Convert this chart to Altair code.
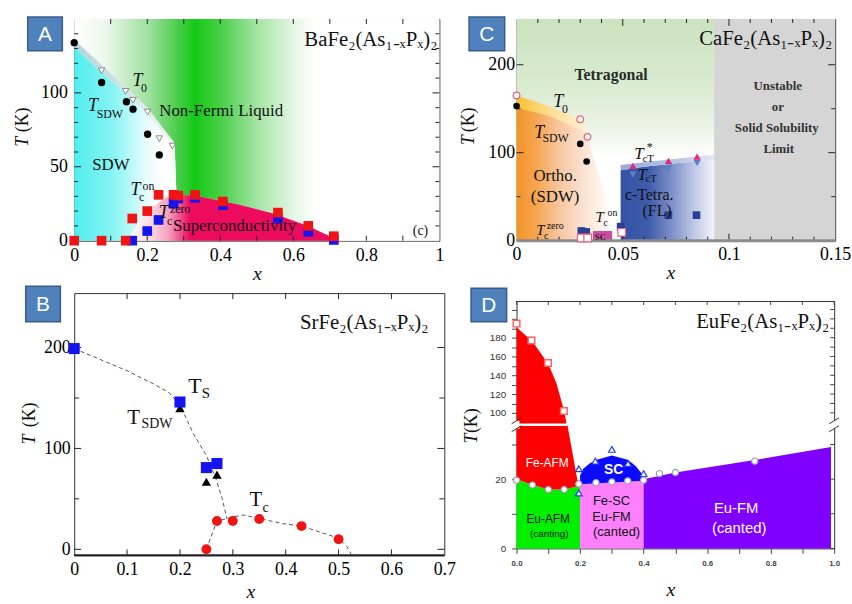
import altair as alt
import pandas as pd

SERIF = "Liberation Serif"
SANS = "Liberation Sans"
INK = "#111111"
ONE = pd.DataFrame({"k": [0]})

# ---------------- Panel A: BaFe2(As1-xPx)2 ----------------
a_xlabels = [0, 0.2, 0.4, 0.6, 0.8, 1]
a_ylabels = [0, 50, 100]
a_xticks = [0.1, 0.2, 0.3, 0.4, 0.5, 0.6, 0.7, 0.8, 0.9]
a_yticks_major = [50, 100]
a_yticks_minor = [10, 20, 30, 40, 60, 70, 80, 90, 110, 120, 130, 140]

a_tsdw_x = [0.0, 0.075, 0.143, 0.161, 0.201, 0.233]
a_tsdw_T = [134, 107, 94, 89, 72, 58]
a_t0_x = [0.075, 0.141, 0.161, 0.201, 0.233, 0.269]
a_t0_T = [115, 101, 95, 87, 69, 64]
a_tcon_x = [0.0, 0.075, 0.141, 0.159, 0.2, 0.231, 0.272, 0.285, 0.331, 0.407, 0.558, 0.641, 0.711]
a_tcon_T = [0, 0, 0, 15, 20, 31, 31, 30.5, 31, 26.5, 19, 10, 3]
a_tczero_x = [0.159, 0.2, 0.231, 0.272, 0.285, 0.331, 0.407, 0.558, 0.641, 0.711]
a_tczero_T = [0, 6.5, 14, 25, 28.5, 29, 24, 15, 6, 0.5]

a_nfl_x = [0, 1, 1, 0.715, 0.70, 0.64, 0.55, 0.45, 0.40, 0.33, 0.28, 0.275, 0.2, 0.14, 0.075, 0]
a_nfl_T = [150, 150, 0, 0, 3, 10, 18, 24.5, 27, 30.5, 31, 66, 90, 104, 119, 136]
a_band_x = [0, 0, 0.075, 0.14, 0.2, 0.275, 0.275, 0.2, 0.14, 0.075]
a_band_T = [131, 136, 119, 104, 90, 66, 63, 86, 100, 114]
a_sdw_x = [0, 0, 0.075, 0.14, 0.2, 0.275, 0.28, 0.25, 0.2, 0.17, 0.145]
a_sdw_T = [0, 131, 114, 100, 86, 63, 31, 29, 20, 10, 0]
a_sc_x = [0.145, 0.17, 0.2, 0.25, 0.28, 0.33, 0.4, 0.45, 0.55, 0.64, 0.7, 0.715]
a_sc_T = [0, 10, 20, 29, 31, 30.5, 27, 24.5, 18, 10, 3, 0]

# ---------------- Panel B: SrFe2(As1-xPx)2 ----------------
b_xlabels = [0, 0.1, 0.2, 0.3, 0.4, 0.5, 0.6, 0.7]
b_ylabels = [0, 100, 200]
b_xticks = [0.1, 0.2, 0.3, 0.4, 0.5, 0.6]
b_yticks_major = [0, 100, 200]
b_yticks_minor = [50, 150]

b_ts_x = [0.0, 0.2, 0.25, 0.27]
b_ts_T = [199, 146, 81, 85]
b_tsdw_x = [0.2, 0.25, 0.27]
b_tsdw_T = [140, 67, 74]
b_tc_x = [0.25, 0.27, 0.3, 0.35, 0.43, 0.5]
b_tc_T = [0, 28, 28, 30, 23, 10]
b_guide1_x = [0, 0.1, 0.15, 0.18, 0.2, 0.225, 0.25, 0.268, 0.28, 0.289]
b_guide1_T = [199, 177, 164, 155, 143, 115, 93, 70, 50, 30]
b_guide2_x = [0.25, 0.262, 0.27, 0.3, 0.32, 0.35, 0.394, 0.43, 0.5, 0.516, 0.525]
b_guide2_T = [0, 17, 28, 32, 34, 30.5, 25.5, 23, 11, 2.6, -6]

# ---------------- Panel C: CaFe2(As1-xPx)2 ----------------
c_xlabels = [0, 0.05, 0.1, 0.15]
c_ylabels = [0, 100, 200]
c_xticks_major = [0.05, 0.1]
c_xticks_minor = [0.01, 0.02, 0.03, 0.04, 0.06, 0.07, 0.08, 0.09, 0.11, 0.12, 0.13, 0.14]
c_yticks_major = [100, 200]
c_yticks_minor = [50, 150]

c_tsdw_x = [0.0, 0.030, 0.033]
c_tsdw_T = [153, 110, 90]
c_t0_x = [0.0, 0.030, 0.0334]
c_t0_T = [165, 138, 118]
c_tcts_x = [0.0548, 0.0715, 0.085]
c_tcts_T = [85, 90.7, 95.5]
c_tct_x = [0.0548, 0.0715, 0.085]
c_tct_T = [75, 82, 88.5]
c_sq_x = [0.0305, 0.0328, 0.049, 0.0715, 0.0847]
c_sq_T = [11, 10, 16, 29, 29]
c_osq_x = [0.0305, 0.0335, 0.0495]
c_osq_T = [3, 3, 9.5]

c_unstable_x = [0.093, 0.15]
c_tetra_x = [0, 0.093]
c_Tspan = [0, 252]
c_sc_x = [0.036, 0.045]
c_sc_T = [0, 11]
c_ortho_x = [0, 0, 0.015, 0.03, 0.034, 0.036, 0.04, 0.044, 0.046]
c_ortho_T = [0, 158, 148, 134, 116, 95, 65, 30, 0]
c_t0band_x = [0, 0, 0.015, 0.03, 0.0345, 0.03, 0.015]
c_t0band_T = [151, 165, 153, 139, 118, 126, 142]
c_fl_x = [0.049, 0.049, 0.06, 0.075, 0.093, 0.093]
c_fl_T = [0, 80, 84, 88, 92, 0]
c_flband_x = [0.049, 0.049, 0.06, 0.075, 0.093, 0.093, 0.075, 0.06]
c_flband_T = [80, 86, 89, 93, 98, 92, 88, 84]
c_base_x = [0, 0.15]

# ---------------- Panel D: EuFe2(As1-xPx)2 (broken T axis) ----------------
d_xticks = [0, 0.1, 0.2, 0.3, 0.4, 0.5, 0.6, 0.7, 0.8, 0.9, 1.0]
d_yticks_T = [0, 10, 20, 30, 100, 110, 120, 130, 140, 150, 160, 170, 180, 190, 200, 210]
d_ylabels = [0, 20, 100, 120, 140, 160, 180]

d_tn_x = [0.0, 0.047, 0.099, 0.149]
d_tn_T = [195, 177, 153, 102]
d_eu_x = [0, 0.05, 0.1, 0.15, 0.196, 0.25, 0.3, 0.35, 0.4, 0.45, 0.5, 0.75]
d_eu_T = [19.7, 18.3, 17, 17, 18.6, 19, 19.2, 19.5, 19.7, 21.6, 21.9, 25.2]
d_tc_x = [0.196, 0.196, 0.248, 0.3, 0.351, 0.4]
d_tc_T = [16, 23, 25.2, 28.6, 24.5, 21.6]

d_red_x = [0, 0, 0.05, 0.1, 0.125, 0.15, 0.158, 0.16, 0.195, 0.15, 0.1, 0.05]
d_red_T = [20, 191, 176, 152, 132, 102, 87.4, 35.7, 18, 17, 17, 18.4]
d_green_x = [0, 0, 0.05, 0.1, 0.15, 0.195, 0.2, 0.2]
d_green_T = [0, 20, 18.4, 17, 17, 18, 18.3, 0]
d_pink_x = [0.2, 0.2, 0.3, 0.4, 0.4]
d_pink_T = [0, 18.5, 19, 19.5, 0]
d_sc_x = [0.2, 0.2, 0.21, 0.23, 0.25, 0.3, 0.35, 0.375, 0.395, 0.4, 0.4, 0.3]
d_sc_T = [18.5, 21, 23, 24.5, 25.5, 26.8, 25.6, 23.8, 21.5, 20, 19.5, 19]
d_fm_x = [0.4, 0.4, 0.5, 0.75, 0.99, 0.99]
d_fm_T = [0, 20, 21.9, 25.5, 29.3, 0]
d_break_x = [0, 0.16]

# piecewise map of T onto the broken axis (lower 0-35.7 K, upper from 87.4 K)
BRK = "datum.T <= 36 ? 3.5 * datum.T : 125 + 0.95 * (datum.T - 87.4)"


def brk(t):
    return 3.5 * t if t <= 36 else 125 + 0.95 * (t - 87.4)


# ---------------- helpers ----------------
def hgrad(stops):
    return alt.LinearGradient(gradient="linear", x1=0, y1=0, x2=1, y2=0,
                              stops=[alt.GradientStop(offset=o, color=c) for o, c in stops])


def vgrad(stops):
    return alt.LinearGradient(gradient="linear", x1=0, y1=0, x2=0, y2=1,
                              stops=[alt.GradientStop(offset=o, color=c) for o, c in stops])


def txt(s, x, y, size=16, font=SERIF, style="normal", weight="normal", color=INK,
        align="center", angle=0):
    return alt.Chart(ONE).mark_text(
        text=s, font=font, fontSize=size, fontStyle=style, fontWeight=weight, color=color,
        align=align, baseline="middle", angle=angle).encode(x=alt.value(x), y=alt.value(y))


def badge(letter, x0, y0, x1, y1):
    rect = alt.Chart(ONE).mark_rect(fill="#4F81BD", stroke="#385D8A", strokeWidth=1.5).encode(
        x=alt.value(x0), x2=alt.value(x1), y=alt.value(y0), y2=alt.value(y1))
    return [rect, txt(letter, (x0 + x1) / 2, (y0 + y1) / 2 + 1, size=21, font=SANS, color="white")]


def anchor(x, y):
    return alt.Chart(ONE).mark_rule(opacity=0).encode(
        x=alt.value(x), x2=alt.value(x + 1), y=alt.value(y), y2=alt.value(y))


def ytitle(x, y_t, y_k, size=18):
    return [txt("T", x, y_t, size=size, style="italic", angle=270),
            txt("(K)", x, y_k, size=size, angle=270)]


class Panel:
    """Shared scales/axes of one panel; every data layer uses the same axis spec."""

    def __init__(self, xsc, ysc, xax, yax, w, h, calc=None):
        self.xsc, self.ysc, self.xax, self.yax = xsc, ysc, xax, yax
        self.w, self.h, self.calc = w, h, calc
        self.yf = "yd" if calc else "T"

    def X(self, f):
        return alt.X(f"{f}:Q", scale=self.xsc, axis=self.xax)

    def Y(self, f):
        return alt.Y(f"{f}:Q", scale=self.ysc, axis=self.yax)

    def base(self, df):
        ch = alt.Chart(df)
        return ch.transform_calculate(yd=self.calc) if self.calc else ch

    def region(self, xs, ts, fill):
        df = pd.DataFrame({"x": xs, "T": ts, "i": list(range(len(xs)))})
        return self.base(df).mark_line(fill=fill, strokeOpacity=0, interpolate="linear").encode(
            x=self.X("x"), y=self.Y(self.yf), order=alt.Order("i:Q"))

    def box(self, xs, ts, fill):
        df = pd.DataFrame({"x": [xs[0]], "x2": [xs[1]], "T": [ts[0]], "T2": [ts[1]]})
        return alt.Chart(df).mark_rect(fill=fill).encode(
            x=self.X("x"), x2="x2:Q", y=self.Y("T"), y2="T2:Q")

    def points(self, xs, ts, **mark):
        df = pd.DataFrame({"x": xs, "T": ts})
        return self.base(df).mark_point(opacity=1, **mark).encode(x=self.X("x"), y=self.Y(self.yf))

    def curve(self, xs, ts, **mark):
        df = pd.DataFrame({"x": xs, "T": ts, "i": list(range(len(xs)))})
        return alt.Chart(df).mark_line(**mark).encode(
            x=self.X("x"), y=self.Y("T"), order=alt.Order("i:Q"))

    def xticks(self, vals, length, sides=("bottom", "top"), color="#222"):
        df = pd.DataFrame({"x": vals})
        out = []
        for side in sides:
            y0, y1 = (self.h, self.h - length) if side == "bottom" else (0, length)
            out.append(alt.Chart(df).mark_rule(color=color, strokeWidth=1).encode(
                x=self.X("x"), y=alt.value(y0), y2=alt.value(y1)))
        return out

    def yticks(self, vals, length, sides=("left", "right"), color="#222"):
        df = pd.DataFrame({"T": vals})
        out = []
        for side in sides:
            x0, x1 = (0, length) if side == "left" else (self.w, self.w - length)
            out.append(self.base(df).mark_rule(color=color, strokeWidth=1).encode(
                y=self.Y(self.yf), x=alt.value(x0), x2=alt.value(x1)))
        return out

    def baseline(self, xs, color, width):
        df = pd.DataFrame({"x": [xs[0]], "x2": [xs[1]]})
        return alt.Chart(df).mark_rule(color=color, strokeWidth=width).encode(
            x=self.X("x"), x2="x2:Q", y=alt.value(self.h))


NUM = "format(datum.value, '.2~f')"
SERIF_AXIS = dict(labelFont=SERIF, labelFontSize=18, labelColor="#000", ticks=False, domain=False,
                  grid=False, title=None, labelFlush=False, labelOverlap=False, labelExpr=NUM)

# ================= Panel A =================
pa = Panel(alt.Scale(domain=[0, 1], nice=False, zero=False),
           alt.Scale(domain=[0, 150], nice=False, zero=False),
           alt.Axis(values=a_xlabels, labelPadding=6, **SERIF_AXIS),
           alt.Axis(values=a_ylabels, labelPadding=7, **SERIF_AXIS),
           369, 224)

green_fill = hgrad([(0, "#ffffff"), (0.08, "#eef8ee"), (0.2, "#a2e2a2"), (0.27, "#5ad05a"),
                    (0.33, "#14c814"), (0.4, "#48cf48"), (0.5, "#a2e4a2"), (0.6, "#e4f6e4"),
                    (0.66, "#ffffff"), (1, "#ffffff")])
cyan_fill = hgrad([(0, "#52eeee"), (0.36, "#84f3f3"), (0.54, "#b6f8f8"), (0.71, "#e8fcfc"),
                   (0.86, "#ffffff"), (1, "#ffffff")])
band_fill = hgrad([(0, "#b8d4d8"), (0.6, "#d7e7ea"), (1, "#eef5f5")])
sc_fill = hgrad([(0, "#ffffff"), (0.1, "#fbe0ea"), (0.2, "#f5a0bd"), (0.3, "#ee0c5e"), (1, "#ee0a5e")])

panel_a = alt.layer(
    pa.region(a_nfl_x, a_nfl_T, green_fill),
    pa.region(a_sdw_x, a_sdw_T, cyan_fill),
    pa.region(a_band_x, a_band_T, band_fill),
    pa.region(a_sc_x, a_sc_T, sc_fill),
    *pa.xticks(a_xticks, 5),
    *pa.yticks(a_yticks_major, 7),
    *pa.yticks(a_yticks_minor, 4),
    pa.points(a_tczero_x, a_tczero_T, shape="square", size=95, filled=True, color="#1414f0"),
    pa.points(a_tcon_x, a_tcon_T, shape="square", size=95, filled=True, color="#f01414"),
    pa.points(a_t0_x, a_t0_T, shape="triangle-down", size=45, filled=True,
              fill="white", stroke="#8a8a8a", strokeWidth=1),
    pa.points(a_tsdw_x, a_tsdw_T, shape="circle", size=55, filled=True, color="#000000"),
    txt("BaFe₂(As₁₋ₓPₓ)₂", 367, 21, size=21, align="right"),
    txt("T", 64, 63, size=18, style="italic"), txt("0", 70.5, 70, size=12),
    txt("T", 19, 88, size=18, style="italic"), txt("SDW", 36, 96, size=12),
    txt("Non-Fermi Liquid", 86, 93, size=17, align="left"),
    txt("SDW", 37, 148, size=17),
    txt("T", 62, 173, size=18, style="italic"), txt("c", 68, 180, size=12), txt("on", 75, 168.5, size=12),
    txt("T", 90.5, 196.5, size=18, style="italic"), txt("c", 96.5, 204, size=12),
    txt("zero", 107, 192.5, size=12),
    txt("Superconductivity", 162, 209, size=17),
    txt("(c)", 350, 214, size=14),
    txt("x", 185, 258, size=20, style="italic"),
    *ytitle(-52, 124, 102),
    *badge("A", -47, -2, -12, 32),
    anchor(-74, -15), anchor(386, 0),
).properties(width=pa.w, height=pa.h)

# ================= Panel B =================
pb = Panel(alt.Scale(domain=[0, 0.7], nice=False, zero=False),
           alt.Scale(domain=[-6, 254], nice=False, zero=False),
           alt.Axis(values=b_xlabels, labelPadding=5, **SERIF_AXIS),
           alt.Axis(values=b_ylabels, labelPadding=4, **SERIF_AXIS),
           374, 265)

panel_b = alt.layer(
    *pb.xticks(b_xticks, 6),
    *pb.yticks(b_yticks_major, 7),
    *pb.yticks(b_yticks_minor, 5),
    pb.baseline([0, 0.7], "#222222", 2),
    pb.curve(b_guide1_x, b_guide1_T, color="#555555", strokeDash=[4, 3], strokeWidth=1),
    pb.curve(b_guide2_x, b_guide2_T, color="#555555", strokeDash=[4, 3], strokeWidth=1),
    pb.points(b_tsdw_x, b_tsdw_T, shape="triangle-up", size=90, filled=True, color="#000000"),
    pb.points(b_ts_x, b_ts_T, shape="square", size=125, filled=True, color="#1414f0"),
    pb.points(b_tc_x, b_tc_T, shape="circle", size=100, filled=True, color="#f01414"),
    txt("SrFe₂(As₁₋ₓPₓ)₂", 358, 30, size=21, align="right"),
    txt("T", 122, 94, size=22), txt("S", 133, 101, size=15),
    txt("T", 60, 126, size=21), txt("SDW", 83.5, 132, size=14),
    txt("T", 183.5, 209.5, size=21), txt("c", 193.5, 217, size=14),
    txt("x", 178.5, 302, size=20, style="italic"),
    *ytitle(-45, 148, 123),
    *badge("B", -49, -7, -14, 29),
).properties(width=pb.w, height=pb.h)

# ================= Panel C =================
pc = Panel(alt.Scale(domain=[0, 0.15], nice=False, zero=False),
           alt.Scale(domain=[0, 252], nice=False, zero=False),
           alt.Axis(values=c_xlabels, labelPadding=5, **SERIF_AXIS),
           alt.Axis(values=c_ylabels, labelPadding=2, **SERIF_AXIS),
           322, 224)

tetra_fill = vgrad([(0, "#cbe3bf"), (0.3, "#d9ebd0"), (0.5, "#ecf5e7"), (0.62, "#ffffff"), (1, "#ffffff")])
ortho_fill = hgrad([(0, "#f39328"), (0.2, "#f5a550"), (0.45, "#f8c8a4"), (0.7, "#fce4d4"),
                    (0.88, "#fff5ee"), (1, "#ffffff")])
t0band_fill = hgrad([(0, "#f9c232"), (0.5, "#fcdf98"), (1, "#fff3dc")])
fl_fill = hgrad([(0, "#3553a6"), (0.3, "#3e5cab"), (0.55, "#7f90c9"), (0.8, "#c3cbe7"), (1, "#f2f4fa")])
flband_fill = hgrad([(0, "#98a9da"), (0.6, "#b9c5e6"), (1, "#e4e9f5")])

panel_c = alt.layer(
    pc.box(c_tetra_x, c_Tspan, tetra_fill),
    pc.box(c_unstable_x, c_Tspan, "#d5d5d5"),
    pc.region(c_ortho_x, c_ortho_T, ortho_fill),
    pc.region(c_t0band_x, c_t0band_T, t0band_fill),
    pc.region(c_fl_x, c_fl_T, fl_fill),
    pc.region(c_flband_x, c_flband_T, flband_fill),
    pc.box(c_sc_x, c_sc_T, "#cc4c9c"),
    *pc.xticks(c_xticks_major, 7),
    *pc.xticks(c_xticks_minor, 4),
    *pc.yticks(c_yticks_major, 7),
    *pc.yticks(c_yticks_minor, 4),
    pc.baseline(c_base_x, "#8c8c8c", 3),
    pc.points(c_sq_x, c_sq_T, shape="square", size=60, filled=True, color="#2b3f93"),
    pc.points(c_osq_x, c_osq_T, shape="square", size=60, filled=True,
              fill="white", stroke="#e86080", strokeWidth=1.2),
    pc.points(c_tct_x, c_tct_T, shape="triangle-down", size=55, filled=True, color="#5a80c8"),
    pc.points(c_tcts_x, c_tcts_T, shape="triangle-up", size=55, filled=True, color="#e8287a"),
    pc.points(c_t0_x, c_t0_T, shape="circle", size=45, filled=True,
              fill="white", stroke="#f06070", strokeWidth=1.2),
    pc.points(c_tsdw_x, c_tsdw_T, shape="circle", size=45, filled=True, color="#000000"),
    txt("CaFe₂(As₁₋ₓPₓ)₂", 319, 20, size=21, align="right"),
    txt("Tetragonal", 95.5, 56.5, size=16, weight="bold", color="#2a2a2a"),
    txt("Unstable", 264, 67.3, size=13, weight="bold", color="#333333"),
    txt("or", 264, 89, size=13, weight="bold", color="#333333"),
    txt("Solid Solubility", 263, 109.7, size=13, weight="bold", color="#333333"),
    txt("Limit", 265, 131.7, size=13, weight="bold", color="#333333"),
    txt("T", 42, 84, size=18, style="italic"), txt("0", 49, 91, size=12),
    txt("T", 23, 115, size=18, style="italic"), txt("SDW", 39.5, 120, size=12),
    txt("Ortho.", 39, 159, size=17), txt("(SDW)", 39, 180, size=17),
    txt("T", 24, 213, size=15, style="italic"), txt("c", 30, 219, size=10), txt("zero", 39, 209, size=10),
    txt("T", 84, 200, size=15, style="italic"), txt("c", 90, 206, size=10), txt("on", 97, 196, size=10),
    txt("SC", 84.5, 220, size=9),
    txt("T", 123.7, 136.7, size=17, style="italic"), txt("cT", 133, 142, size=11),
    txt("*", 134.5, 129, size=12),
    txt("T", 127, 157.5, size=17, style="italic"), txt("cT", 136, 162, size=11),
    txt("c-Tetra.", 134, 178, size=16), txt("(FL)", 142, 194, size=16),
    txt("x", 156, 257, size=20, style="italic"),
    *ytitle(-47.5, 122.5, 102),
    *badge("C", -48, -2, -12, 32),
    anchor(-58, -15),
).properties(width=pc.w, height=pc.h)

# ================= Panel D =================
inv = "(datum.value <= 126 ? datum.value / 3.5 : 87.4 + (datum.value - 125) / 0.95)"
lab_list = "[" + ",".join(str(v) for v in d_ylabels) + "]"
d_ylabel_expr = f"indexof({lab_list}, round({inv})) >= 0 ? '' + round({inv}) : ''"
d_xlabel_expr = "round(datum.value * 10) % 2 == 0 ? format(datum.value, '.1f') : ''"
d_axis_common = dict(ticks=True, tickSize=5, tickColor="#444", domain=False, grid=False, title=None,
                     labelFlush=False, labelOverlap=False, labelFont=SANS)

pd_ = Panel(alt.Scale(domain=[0, 1], nice=False, zero=False),
            alt.Scale(domain=[0, 250], nice=False, zero=False),
            alt.Axis(values=d_xticks, labelExpr=d_xlabel_expr, labelFontSize=8, labelFontWeight="bold",
                     labelColor="#444", labelPadding=6, **d_axis_common),
            alt.Axis(values=[brk(t) for t in d_yticks_T], labelExpr=d_ylabel_expr, labelFontSize=10,
                     labelColor="#333", labelPadding=6, **d_axis_common),
            321, 250, calc=BRK)

break_df = pd.DataFrame({"x": [d_break_x[0]], "x2": [d_break_x[1]], "T": [87.4]})
WD = pd_.w


def break_mark(x):
    return [
        alt.Chart(ONE).mark_rect(fill="white").encode(
            x=alt.value(x - 3), x2=alt.value(x + 3), y=alt.value(121), y2=alt.value(129)),
        alt.Chart(ONE).mark_rule(color="#333", strokeWidth=1).encode(
            x=alt.value(x - 5), x2=alt.value(x + 5), y=alt.value(124), y2=alt.value(118)),
        alt.Chart(ONE).mark_rule(color="#333", strokeWidth=1).encode(
            x=alt.value(x - 5), x2=alt.value(x + 5), y=alt.value(132), y2=alt.value(126)),
    ]


panel_d = alt.layer(
    pd_.region(d_green_x, d_green_T, "#00f000"),
    pd_.region(d_pink_x, d_pink_T, "#ff80ff"),
    pd_.region(d_fm_x, d_fm_T, "#7f00ff"),
    pd_.region(d_red_x, d_red_T, "#ff0000"),
    pd_.region(d_sc_x, d_sc_T, "#0a0aff"),
    pd_.base(break_df).mark_rule(color="white", strokeWidth=2.5).encode(
        x=pd_.X("x"), x2="x2:Q", y=pd_.Y("yd")),
    *pd_.xticks(d_xticks, 4, sides=("top",), color="#444"),
    *pd_.yticks(d_yticks_T, 4, sides=("right",), color="#444"),
    pd_.points(d_tn_x, d_tn_T, shape="square", size=45, filled=True,
               fill="white", stroke="#ff6060", strokeWidth=1.5),
    pd_.points(d_tc_x, d_tc_T, shape="triangle-up", size=45, filled=True,
               fill="white", stroke="#2040ff", strokeWidth=1.2),
    pd_.points(d_eu_x, d_eu_T, shape="circle", size=40, filled=True,
               fill="white", stroke="#9a9ab4", strokeWidth=1.2),
    *break_mark(0), *break_mark(WD),
    txt("EuFe₂(As₁₋ₓPₓ)₂", 316, 21, size=21, align="right"),
    txt("Fe-AFM", 31, 164, size=12, font=SANS, color="white"),
    txt("SC", 98, 171, size=14, font=SANS, weight="bold", color="white"),
    txt("Eu-AFM", 32, 220, size=12, font=SANS, color="#111"),
    txt("(canting)", 33, 235, size=10, font=SANS, color="#111"),
    txt("Fe-SC", 96, 202, size=13, font=SANS, color="#111"),
    txt("Eu-FM", 96, 218, size=13, font=SANS, color="#111"),
    txt("(canted)", 101, 233, size=13, font=SANS, color="#111"),
    txt("Eu-FM", 222, 209, size=15, font=SANS, color="white"),
    txt("(canted)", 225, 229, size=15, font=SANS, color="white"),
    txt("x", 156, 292, size=20, style="italic"),
    *ytitle(-45, 139, 121),
    *badge("D", -46, -13, -10, 21),
).properties(width=pd_.w, height=pd_.h)

left_col = alt.vconcat(panel_a, panel_b, spacing=53, bounds="flush")
right_col = alt.vconcat(panel_c, panel_d, spacing=61, bounds="flush")

chart = alt.hconcat(left_col, right_col, spacing=0).properties(
    padding={"left": 0, "top": 0, "right": 0, "bottom": 0},
    background="white",
).configure_view(
    stroke="#333333", strokeWidth=1
).configure_axis(
    labelFont=SERIF, labelFontSize=18
)

chart.save("out.html", embed_options={"renderer": "svg", "actions": False})
